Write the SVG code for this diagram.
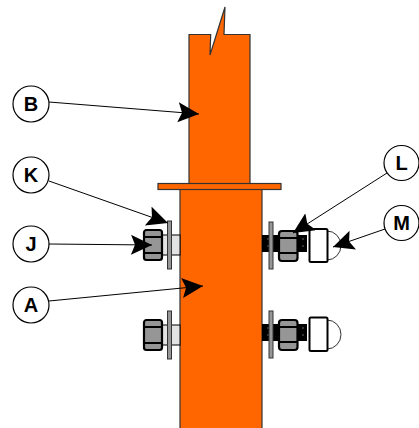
<svg xmlns="http://www.w3.org/2000/svg" width="419" height="428" viewBox="0 0 419 428">
<style>
.o{fill:#ff6600;stroke:#333;stroke-width:1.2}
.c{fill:#fff;stroke:#000;stroke-width:1.2}
.t{font:bold 20px "Liberation Sans",Arial,sans-serif;text-anchor:middle;fill:#000}
.n{fill:#969696;stroke:#000;stroke-width:2.200}
.w{fill:#969696;stroke:#333;stroke-width:1}
.l{fill:#e3e3e3;stroke:#000;stroke-width:1}
.b{fill:#000}
.h{stroke:#000;stroke-width:1.800;fill:none}
.a{stroke:#000;stroke-width:1;fill:none;marker-end:url(#ah)}
</style>
<defs>
<marker id="ah" markerUnits="userSpaceOnUse" markerWidth="24" markerHeight="22" refX="21" refY="10" orient="auto"><path d="M0 0L21 10L0 20L4 10Z" fill="#000"/></marker>
<g id="lb"><rect class="l" x="162" y="0" width="18" height="20"/><rect class="n" x="144" y="-5" width="18" height="30" rx="2.500"/><path class="h" d="M144 2H162M144 18H162"/><rect class="w" x="167.500" y="-14" width="4" height="48"/></g>
<g id="rb"><rect class="b" x="262" y="0" width="45" height="17"/><path d="M268 3V5M268 10V12M303 3V5M303 10V12" stroke="#666" stroke-width="1"/><rect class="w" x="269" y="-13" width="4" height="47"/><rect class="n" x="279" y="-4" width="18.500" height="30" rx="3"/><path class="h" d="M279 3H297.500M279 18H297.500"/></g>
</defs>
<g id="col"><path class="o" d="M189 34.500H210.700L210 55L225 7L224 34.500H250V184H189Z"/><rect class="o" x="180" y="189" width="82" height="240"/><rect class="o" x="158" y="183.500" width="123" height="6"/></g>
<g id="bolt-l1"><use href="#lb" y="235"/></g>
<g id="bolt-l2"><use href="#lb" y="325"/></g>
<g id="bolt-r1"><use href="#rb" y="235"/><path d="M327 231A14 14.500 0 0 1 327 260" fill="#fff" stroke="#333"/><rect x="309.500" y="229" width="18" height="33" rx="1.500" fill="#fff" stroke="#000" stroke-width="2"/></g>
<g id="bolt-r2"><use href="#rb" y="324"/><path d="M327 320A14 14.500 0 0 1 327 349" fill="#fff" stroke="#333"/><rect x="309.500" y="317.500" width="18" height="33.500" rx="1.500" fill="#fff" stroke="#000" stroke-width="2"/></g>
<g id="connectors">
<path class="a" d="M49 102L199 114"/><path class="a" d="M49 181L168 223"/><path class="a" d="M49 244L152 245"/><path class="a" d="M49 301L203 286"/><path class="a" d="M387 173L293 233"/><path class="a" d="M385 229L333 247"/>
</g>
<g id="B"><circle class="c" cx="31" cy="104" r="18"/><text class="t" x="31" y="111">B</text></g>
<g id="K"><circle class="c" cx="31" cy="175" r="18"/><text class="t" x="31" y="182">K</text></g>
<g id="J"><circle class="c" cx="31" cy="244" r="18"/><text class="t" x="31" y="251">J</text></g>
<g id="A"><circle class="c" cx="31" cy="305" r="18"/><text class="t" x="31" y="312">A</text></g>
<g id="L"><circle class="c" cx="401.500" cy="163" r="17.500"/><text class="t" x="401.500" y="170">L</text></g>
<g id="M"><circle class="c" cx="401.500" cy="223" r="17.500"/><text class="t" x="401.500" y="230">M</text></g>
</svg>
